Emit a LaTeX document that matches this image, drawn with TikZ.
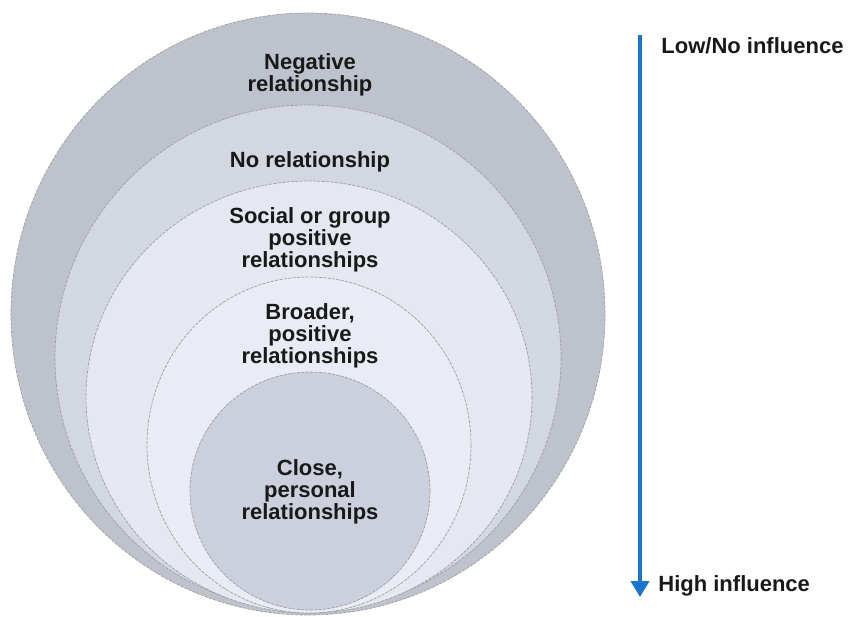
\documentclass[tikz,border=0pt]{standalone}
\usepackage{fontspec}
\setmainfont{Liberation Sans}
\usepackage{xcolor}
\usetikzlibrary{arrows.meta, positioning}

\definecolor{ringA}{HTML}{BEC2CD}
\definecolor{ringB}{HTML}{D3D7E2}
\definecolor{ringC}{HTML}{E5E8F1}
\definecolor{ringD}{HTML}{E9ECF4}
\definecolor{ringE}{HTML}{CBD0DC}
\definecolor{inflblue}{HTML}{1B74D0}

\begin{document}
\begin{tikzpicture}[
    x=0.5pt, y=0.5pt, yscale=-1,
    ring/.style={draw=gray!75, line width=0.35pt, dash pattern=on 1.6pt off 0.6pt},
    lbl/.style={font=\fontsize{11}{11}\selectfont\bfseries, align=center, text=black!90, inner sep=0pt},
    side/.style={font=\fontsize{11}{11}\selectfont\bfseries, text=black!90, inner sep=0pt, anchor=west},
    infl/.style={-{Triangle[width=9pt, length=8pt]}, line width=2pt, inflblue}
]
\useasboundingbox (0,0) rectangle (848,617);

% Rings, outer to inner
\draw[ring, fill=ringA] (308,314) ellipse [x radius=297, y radius=301];
\draw[ring, fill=ringB] (308,358) ellipse [x radius=253, y radius=253];
\draw[ring, fill=ringC] (309,397) ellipse [x radius=223, y radius=216];
\draw[ring, fill=ringD] (309,445) ellipse [x radius=162, y radius=168];
\draw[ring, fill=ringE] (310,491) ellipse [x radius=120, y radius=119];

% Ring labels
\node[lbl] (neg) at (310,75) {Negative\\relationship};
\node[lbl] (none) at (310,162) {No relationship};
\node[lbl] (social) at (310,240) {Social or group\\positive\\relationships};
\node[lbl] (broad) at (310,336) {Broader,\\positive\\relationships};
\node[lbl] (close) at (310,492) {Close,\\personal\\relationships};

% Influence scale
\coordinate (low) at (640,35);
\coordinate (high) at (640,597);
\draw[infl] (low) -- (high);
\node[side] (lowlbl) at (661,46) {Low/No influence};
\node[side] (highlbl) at (658,586) {High influence};
\end{tikzpicture}
\end{document}
